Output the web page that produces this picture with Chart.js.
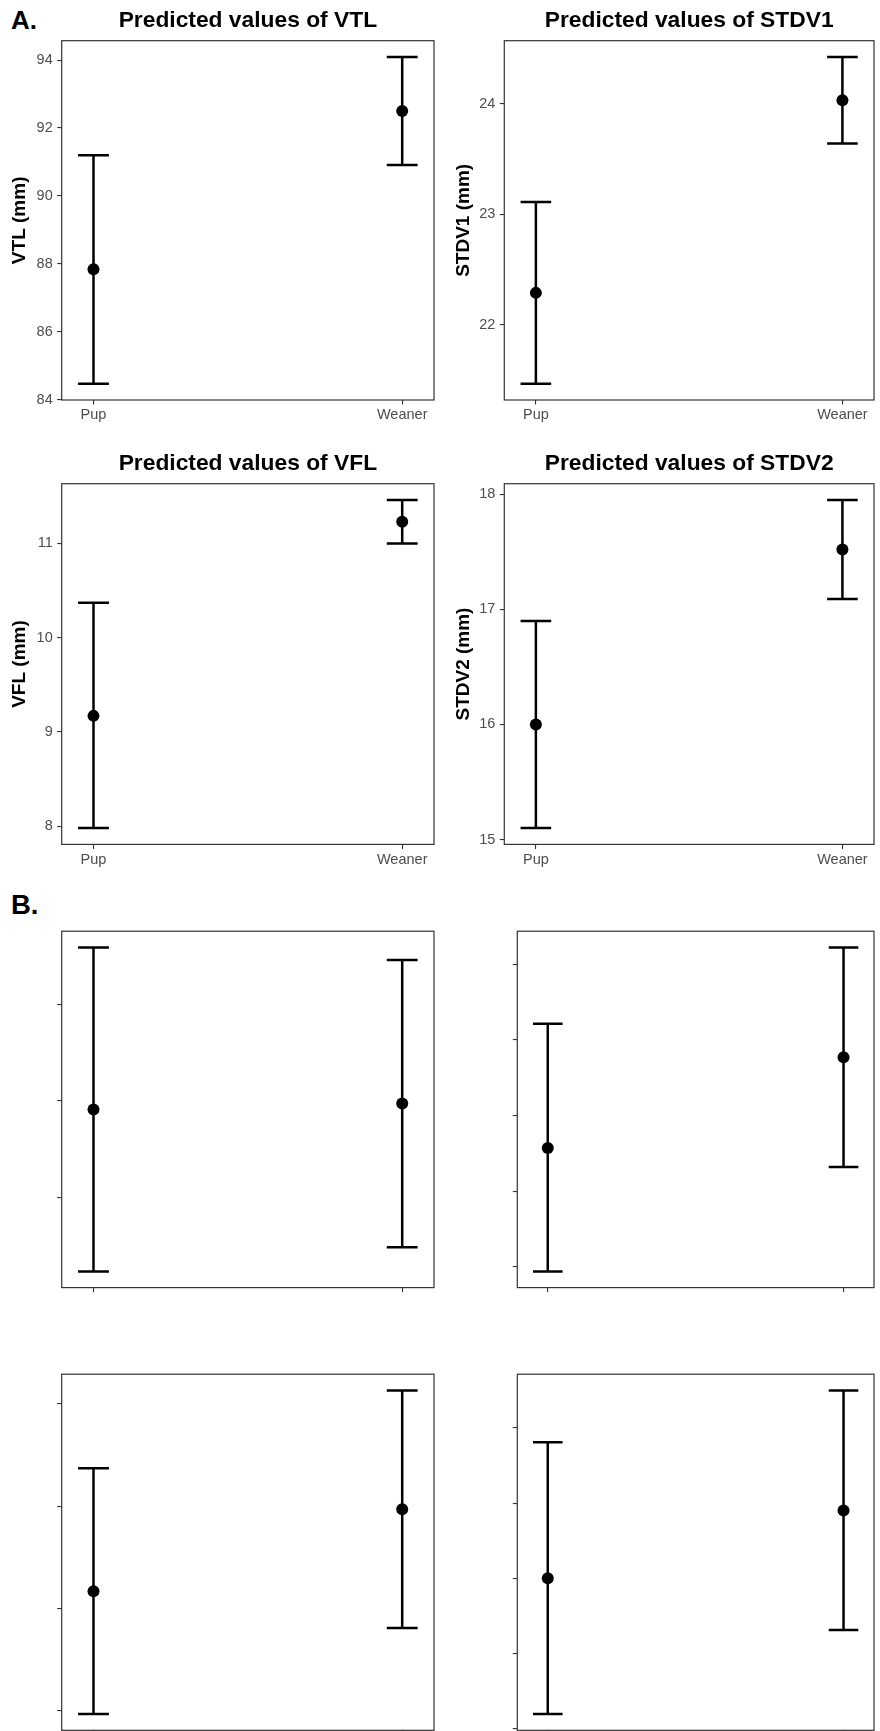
<!DOCTYPE html>
<html>
<head>
<meta charset="utf-8">
<script src="https://cdn.jsdelivr.net/npm/chart.js@4"></script>
<style>
  html, body { margin: 0; padding: 0; background: #fff; }
  body { width: 880px; height: 1731px; position: relative; overflow: hidden;
         font-family: 'Liberation Sans', Arial, Helvetica, sans-serif; }
  .panel { position: absolute; }
  .tag { position: absolute; font-weight: bold; line-height: 1; color: #000; }
</style>
</head>
<body>
<div class="tag" style="left:11px; top:6.6px; font-size:26px">A.</div>
<div class="tag" style="left:11px; top:891.4px; font-size:27.5px">B.</div>

<script>
// ---------- Data ----------
const groups = ['Pup', 'Weaner']

// A. predicted values with lower / upper limits
const vtlFit = [87.84, 92.50]
const vtlLow = [84.47, 90.91]
const vtlHigh = [91.20, 94.09]
const vtlTicks = [84, 86, 88, 90, 92, 94]

const stdv1Fit = [22.29, 24.03]
const stdv1Low = [21.47, 23.64]
const stdv1High = [23.11, 24.42]
const stdv1Ticks = [22, 23, 24]

const vflFit = [9.17, 11.23]
const vflLow = [7.98, 11.00]
const vflHigh = [10.37, 11.46]
const vflTicks = [8, 9, 10, 11]

const stdv2Fit = [16.00, 17.52]
const stdv2Low = [15.10, 17.09]
const stdv2High = [16.90, 17.95]
const stdv2Ticks = [15, 16, 17, 18]

// B. same layout, axes without labels (units are tick steps)
const b1Fit = [1.91, 1.97]
const b1Low = [0.23, 0.48]
const b1High = [3.59, 3.46]
const b1Ticks = [1, 2, 3]

const b2Fit = [2.57, 3.77]
const b2Low = [0.94, 2.32]
const b2High = [4.21, 5.22]
const b2Ticks = [1, 2, 3, 4, 5]

const b3Fit = [2.17, 2.97]
const b3Low = [0.97, 1.81]
const b3High = [3.37, 4.13]
const b3Ticks = [1, 2, 3, 4]

const b4Fit = [3.00, 3.90]
const b4Low = [1.19, 2.31]
const b4High = [4.81, 5.50]
const b4Ticks = [1, 2, 3, 4, 5]

// ---------- Panels: where each chart sits on the page ----------
const panels = [
  { left: 0,   top: 0,     height: 430,   axisW: 61.7, padR: 4,   padT: 0,  xAxisH: 30, labels: true,
    title: 'Predicted values of VTL', yTitle: 'VTL (mm)', yTitlePad: 8.6,
    fit: vtlFit, low: vtlLow, high: vtlHigh, ticks: vtlTicks },
  { left: 440, top: 0,     height: 430,   axisW: 64.3, padR: 1.3, padT: 0,  xAxisH: 30, labels: true,
    title: 'Predicted values of STDV1', yTitle: 'STDV1 (mm)', yTitlePad: 12.6,
    fit: stdv1Fit, low: stdv1Low, high: stdv1High, ticks: stdv1Ticks },
  { left: 0,   top: 442.6, height: 431.4, axisW: 61.7, padR: 4,   padT: 0,  xAxisH: 30, labels: true,
    title: 'Predicted values of VFL', yTitle: 'VFL (mm)', yTitlePad: 8.6,
    fit: vflFit, low: vflLow, high: vflHigh, ticks: vflTicks },
  { left: 440, top: 442.6, height: 431.4, axisW: 64.3, padR: 1.3, padT: 0,  xAxisH: 30, labels: true,
    title: 'Predicted values of STDV2', yTitle: 'STDV2 (mm)', yTitlePad: 12.6,
    fit: stdv2Fit, low: stdv2Low, high: stdv2High, ticks: stdv2Ticks },
  { left: 0,   top: 917.7, height: 389.6, axisW: 61.7, padR: 4,   padT: 10, xAxisH: 20, labels: false,
    fit: b1Fit, low: b1Low, high: b1High, ticks: b1Ticks },
  { left: 440, top: 917.7, height: 389.6, axisW: 77.3, padR: 1.3, padT: 10, xAxisH: 20, labels: false,
    fit: b2Fit, low: b2Low, high: b2High, ticks: b2Ticks },
  { left: 0,   top: 1360.7, height: 389.3, axisW: 61.7, padR: 4,  padT: 10, xAxisH: 20, labels: false,
    fit: b3Fit, low: b3Low, high: b3High, ticks: b3Ticks },
  { left: 440, top: 1360.7, height: 389.3, axisW: 77.3, padR: 1.3, padT: 10, xAxisH: 20, labels: false,
    fit: b4Fit, low: b4Low, high: b4High, ticks: b4Ticks }
]

const xPad = 0.103      // space left of Pup / right of Weaner (x units)
const capWidth = 0.1    // error bar cap width (x units)

Chart.defaults.font.family = "'Liberation Sans', Arial, Helvetica, sans-serif"

// ggplot style: 5% of the span added on both ends
function yRange(low, high) {
  let lo = Math.min(...low)
  let hi = Math.max(...high)
  let pad = (hi - lo) * 0.05
  return [lo - pad, hi + pad]
}

// ---------- Error bars, drawn through the chart's scales ----------
const errorBars = {
  id: 'errorBars',
  beforeDatasetsDraw(chart) {
    let ctx = chart.ctx
    let xs = chart.scales.x
    let ys = chart.scales.y
    let ds = chart.data.datasets[0]
    ctx.save()
    ctx.strokeStyle = '#000'
    ctx.lineWidth = 2.5
    ds.data.forEach((pt, i) => {
      let x = xs.getPixelForValue(pt.x)
      let half = xs.getPixelForValue(pt.x + capWidth / 2) - x
      let yLo = ys.getPixelForValue(ds.errLow[i])
      let yHi = ys.getPixelForValue(ds.errHigh[i])
      ctx.beginPath()
      ctx.moveTo(x, yLo); ctx.lineTo(x, yHi)
      ctx.moveTo(x - half, yLo); ctx.lineTo(x + half, yLo)
      ctx.moveTo(x - half, yHi); ctx.lineTo(x + half, yHi)
      ctx.stroke()
    })
    ctx.restore()
  }
}

// ---------- Panel border (theme_bw style box) ----------
const panelBox = {
  id: 'panelBox',
  afterDraw(chart) {
    let a = chart.chartArea
    let ctx = chart.ctx
    ctx.save()
    ctx.strokeStyle = '#333'
    ctx.lineWidth = 1.2
    ctx.strokeRect(a.left, a.top, a.right - a.left, a.bottom - a.top)
    ctx.restore()
  }
}

// ---------- Build every panel ----------
panels.forEach(p => {
  let box = document.createElement('div')
  box.className = 'panel'
  box.style.left = p.left + 'px'
  box.style.top = p.top + 'px'
  box.style.width = '440px'
  box.style.height = p.height + 'px'
  let canvas = document.createElement('canvas')
  box.append(canvas)
  document.body.append(box)

  let [ymin, ymax] = yRange(p.low, p.high)

  new Chart(canvas, {
    type: 'scatter',
    data: {
      datasets: [{
        data: p.fit.map((v, i) => ({ x: i + 1, y: v })),
        errLow: p.low,
        errHigh: p.high,
        pointRadius: 6,
        pointHoverRadius: 6,
        backgroundColor: '#000',
        borderColor: '#000',
        borderWidth: 0
      }]
    },
    options: {
      responsive: true,
      maintainAspectRatio: false,
      animation: false,
      events: [],
      layout: { padding: { top: p.padT, right: p.padR, left: 0, bottom: 0 } },
      plugins: {
        legend: { display: false },
        tooltip: { enabled: false },
        title: {
          display: !!p.title,
          text: p.title || '',
          fullSize: false,
          color: '#000',
          font: { size: 22.8, weight: 'bold' },
          padding: { top: 7, bottom: 6.34 }
        }
      },
      scales: {
        x: {
          type: 'linear',
          min: 1 - xPad,
          max: groups.length + xPad,
          afterBuildTicks: s => { s.ticks = groups.map((g, i) => ({ value: i + 1 })) },
          afterFit: s => { s.height = p.xAxisH },
          ticks: {
            callback: v => p.labels ? groups[Math.round(v) - 1] : '',
            color: '#4d4d4d',
            font: { size: 14.5 },
            padding: 2,
            autoSkip: false,
            maxRotation: 0
          },
          grid: { drawOnChartArea: false, drawTicks: true, tickLength: 4.5, color: '#333', lineWidth: 1.1 },
          border: { display: false }
        },
        y: {
          type: 'linear',
          min: ymin,
          max: ymax,
          afterBuildTicks: s => { s.ticks = p.ticks.map(t => ({ value: t })) },
          afterFit: s => { s.width = p.axisW },
          ticks: {
            callback: v => p.labels ? String(v) : '',
            color: '#4d4d4d',
            font: { size: 14.5 },
            padding: 4.5,
            autoSkip: false
          },
          grid: { drawOnChartArea: false, drawTicks: true, tickLength: 4.5, color: '#333', lineWidth: 1.1 },
          border: { display: false },
          title: {
            display: !!p.yTitle,
            text: p.yTitle || '',
            color: '#000',
            font: { size: 19, weight: 'bold' },
            padding: { top: p.yTitlePad || 0, bottom: 0 }
          }
        }
      }
    },
    plugins: [errorBars, panelBox]
  })
})
</script>
</body>
</html>
